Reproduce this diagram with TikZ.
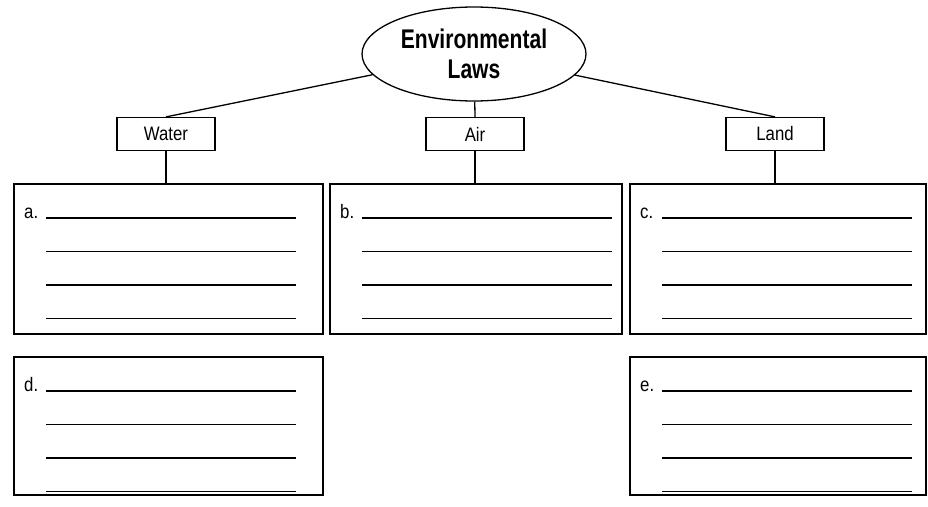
\documentclass[tikz,border=0pt]{standalone}
\usepackage{fontspec}
\setmainfont{Liberation Sans}[FakeStretch=0.86]
\newfontfamily\titlefont{Liberation Sans}[FakeStretch=0.78]
\usetikzlibrary{calc,shapes}

\begin{document}
\begin{tikzpicture}[x=1pt,y=-1pt,
  topic/.style={draw,line width=1.2pt,minimum width=98pt,minimum height=33pt,
    inner sep=0pt,font=\fontsize{19.5}{22}\selectfont},
  answer/.style={draw,line width=1.5pt,anchor=north west,inner sep=0pt},
  blank/.style={line width=1.3pt},
  letter/.style={anchor=base west,inner sep=0pt,font=\fontsize{19.5}{22}\selectfont}]
\useasboundingbox (0,0) rectangle (928,506);
\node[ellipse,draw,line width=1.3pt,minimum width=224pt,minimum height=94pt,
  inner sep=0pt,align=center,
  font=\titlefont\bfseries\fontsize{27}{30}\selectfont] (laws) at (474,54)
  {Environmental\\Laws};
\node[topic] (water) at (166,134) {Water};
\node[topic] (air) at (475,134) {Air};
\node[topic] (land) at (775,134) {Land};
\node[answer,minimum width=309pt,minimum height=150pt] (a) at (13,183) {};
\node[answer,minimum width=292pt,minimum height=150pt] (b) at (329,183) {};
\node[answer,minimum width=296pt,minimum height=150pt] (c) at (629,183) {};
\node[answer,minimum width=309pt,minimum height=138pt] (d) at (13,356) {};
\node[answer,minimum width=296pt,minimum height=138pt] (e) at (629,356) {};
% links
\draw[line width=1.3pt] (laws) -- (water.north);
\draw[line width=1.3pt] (laws) -- (air.north);
\draw[line width=1.3pt] (laws) -- (land.north);
\draw[line width=1.3pt] (water.south) -- (water.south |- a.north);
\draw[line width=1.3pt] (air.south) -- (air.south |- b.north);
\draw[line width=1.3pt] (land.south) -- (land.south |- c.north);
% blanks to fill in
\foreach \bx in {a,b,c,d,e} {
  \node[letter] (\bx-label) at ($(\bx.north west)+(11,35)$) {\bx.};
  \foreach \k in {0,...,3}
    \draw[blank] ($(\bx.north west)+(33,35+33.5*\k)$) -- ++(250,0);
}
\end{tikzpicture}
\end{document}
